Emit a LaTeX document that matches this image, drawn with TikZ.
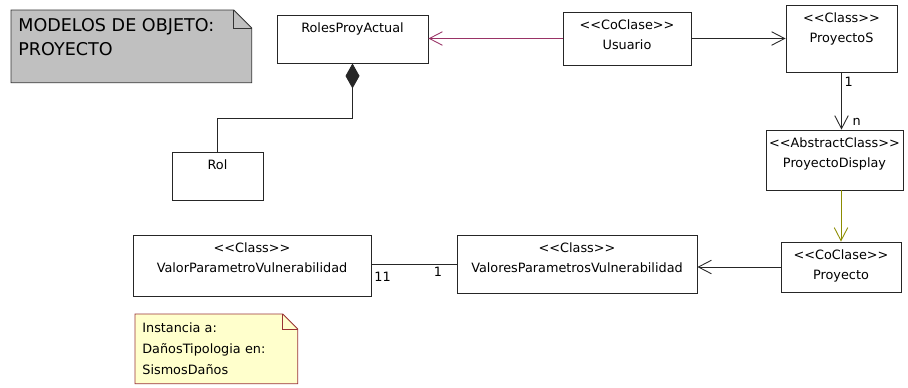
\documentclass[tikz,border=0pt]{standalone}
\usepackage{fontspec}
\setmainfont{DejaVu Sans}
\usepackage{xcolor}
\usepackage{tikz}
\usetikzlibrary{arrows.meta,positioning,calc,backgrounds}

\definecolor{rolelink}{HTML}{993366}
\definecolor{inheritlink}{HTML}{8C8C00}
\definecolor{notegray}{HTML}{C0C0C0}
\definecolor{noteyellow}{HTML}{FFFFCC}
\definecolor{noteborder}{HTML}{993333}

% stereotype, kept as two plain angle brackets
\newcommand{\stereo}[1]{<{}<#1>{}>}

\begin{document}
\begin{tikzpicture}[
  x=0.2mm, y=-0.2mm,
  font=\fontsize{7.3}{11.4}\selectfont,
  >={Straight Barb[length=2.6mm,width=2.7mm]},
  % Class boxes
  cls/.style={rectangle, draw=black!85, line width=0.5pt, inner sep=0pt},
  ctext/.style={anchor=north, align=center, inner sep=0pt, yshift=-4.6pt},
  % Notes
  titlebox/.style={rectangle, inner sep=0pt, anchor=north west,
    minimum width=48mm, minimum height=14.4mm},
  titletext/.style={anchor=north west, align=left, inner sep=0pt,
    xshift=1.4mm, yshift=-1.7mm, font=\fontsize{10}{13.6}\selectfont},
  yellownote/.style={rectangle, anchor=north west, align=left,
    inner xsep=1.4mm, inner ysep=0pt, text width=29.6mm,
    minimum height=13.8mm, font=\fontsize{7.3}{11.9}\selectfont},
  % Connectors
  assoc/.style={->, draw=black!85, line width=0.5pt},
  plain/.style={draw=black!85, line width=0.5pt},
  mult/.style={font=\fontsize{7.3}{9}\selectfont, inner sep=1.5pt},
]
\useasboundingbox (0,0) rectangle (908,387);

% -------------------------------------------------------
% NOTES
% -------------------------------------------------------
\node[titlebox, label={[titletext]north west:{MODELOS DE OBJETO:\\PROYECTO}}]
  (titlenote) at (11,10) {};
\node[yellownote] (instnote) at (135,314)
  {Instancia a:\\DañosTipologia en:\\SismosDaños};

% -------------------------------------------------------
% TOP ROW
% -------------------------------------------------------
\node[cls, minimum width=30.2mm, minimum height=9.6mm,
  label={[ctext]north:RolesProyActual}] (roles) at (352.5,39) {};
\node[cls, minimum width=25.6mm, minimum height=10.6mm,
  label={[ctext]north:{\stereo{CoClase}\\Usuario}}] (usuario) at (627,38.5) {};
\node[cls, minimum width=22.2mm, minimum height=13.4mm,
  label={[ctext]north:{\stereo{Class}\\ProyectoS}}] (proys) at (841.5,38.5) {};
\node[cls, minimum width=18.2mm, minimum height=9.6mm,
  label={[ctext]north:Rol}] (rol) at (217.5,176) {};

% -------------------------------------------------------
% RIGHT COLUMN AND BOTTOM ROW
% -------------------------------------------------------
\node[cls, minimum width=27.4mm, minimum height=12mm,
  label={[ctext]north:{\stereo{AbstractClass}\\ProyectoDisplay}}] (pdisplay) at (834.5,160) {};
\node[cls, minimum width=24mm, minimum height=10mm,
  label={[ctext]north:{\stereo{CoClase}\\Proyecto}}] (proyecto) at (841,267) {};
\node[cls, minimum width=48mm, minimum height=11.6mm,
  label={[ctext]north:{\stereo{Class}\\ValoresParametrosVulnerabilidad}}] (valores) at (577,264) {};
\node[cls, minimum width=47.6mm, minimum height=12.2mm,
  label={[ctext]north:{\stereo{Class}\\ValorParametroVulnerabilidad}}] (valor) at (252,265.5) {};

% Note outlines (behind the texts)
\begin{scope}[on background layer]
  \filldraw[fill=notegray, draw=black!80, line width=0.5pt]
    (titlenote.north west) -- ([xshift=-3.6mm]titlenote.north east)
    -- ([yshift=-3.6mm]titlenote.north east) -- (titlenote.south east)
    -- (titlenote.south west) -- cycle;
  \draw[draw=black!80, line width=0.5pt]
    ([xshift=-3.6mm]titlenote.north east) |- ([yshift=-3.6mm]titlenote.north east);
  \filldraw[fill=noteyellow, draw=noteborder, line width=0.5pt]
    (instnote.north west) -- ([xshift=-3mm]instnote.north east)
    -- ([yshift=-3mm]instnote.north east) -- (instnote.south east)
    -- (instnote.south west) -- cycle;
  \draw[draw=noteborder, line width=0.5pt]
    ([xshift=-3mm]instnote.north east) |- ([yshift=-3mm]instnote.north east);
\end{scope}

% -------------------------------------------------------
% CONNECTORS
% -------------------------------------------------------
\draw[assoc, draw=rolelink] (usuario.west) -- (usuario.west -| roles.east);
\draw[assoc] (usuario.east) -- (usuario.east -| proys.west);
\draw[assoc] (proys.south) -- node[mult, anchor=west, pos=0.17]{1}
  node[mult, anchor=west, pos=0.86, xshift=1.6mm]{n} (proys.south |- pdisplay.north);
\draw[assoc, draw=inheritlink] (proyecto.north |- pdisplay.south) -- (proyecto.north);
\draw[assoc] (proyecto.west) -- (proyecto.west -| valores.east);
\draw[plain] (valores.west) -- node[mult, anchor=north, pos=0.22]{1}
  node[mult, anchor=north, pos=0.87, yshift=-1mm]{11} (valores.west -| valor.east);

% Composition Rol -> RolesProyActual
\draw[plain, {Diamond[length=5mm,width=2.8mm]}-] (roles.south) -- ++(0,55) -| (rol.north);

\end{tikzpicture}
\end{document}
